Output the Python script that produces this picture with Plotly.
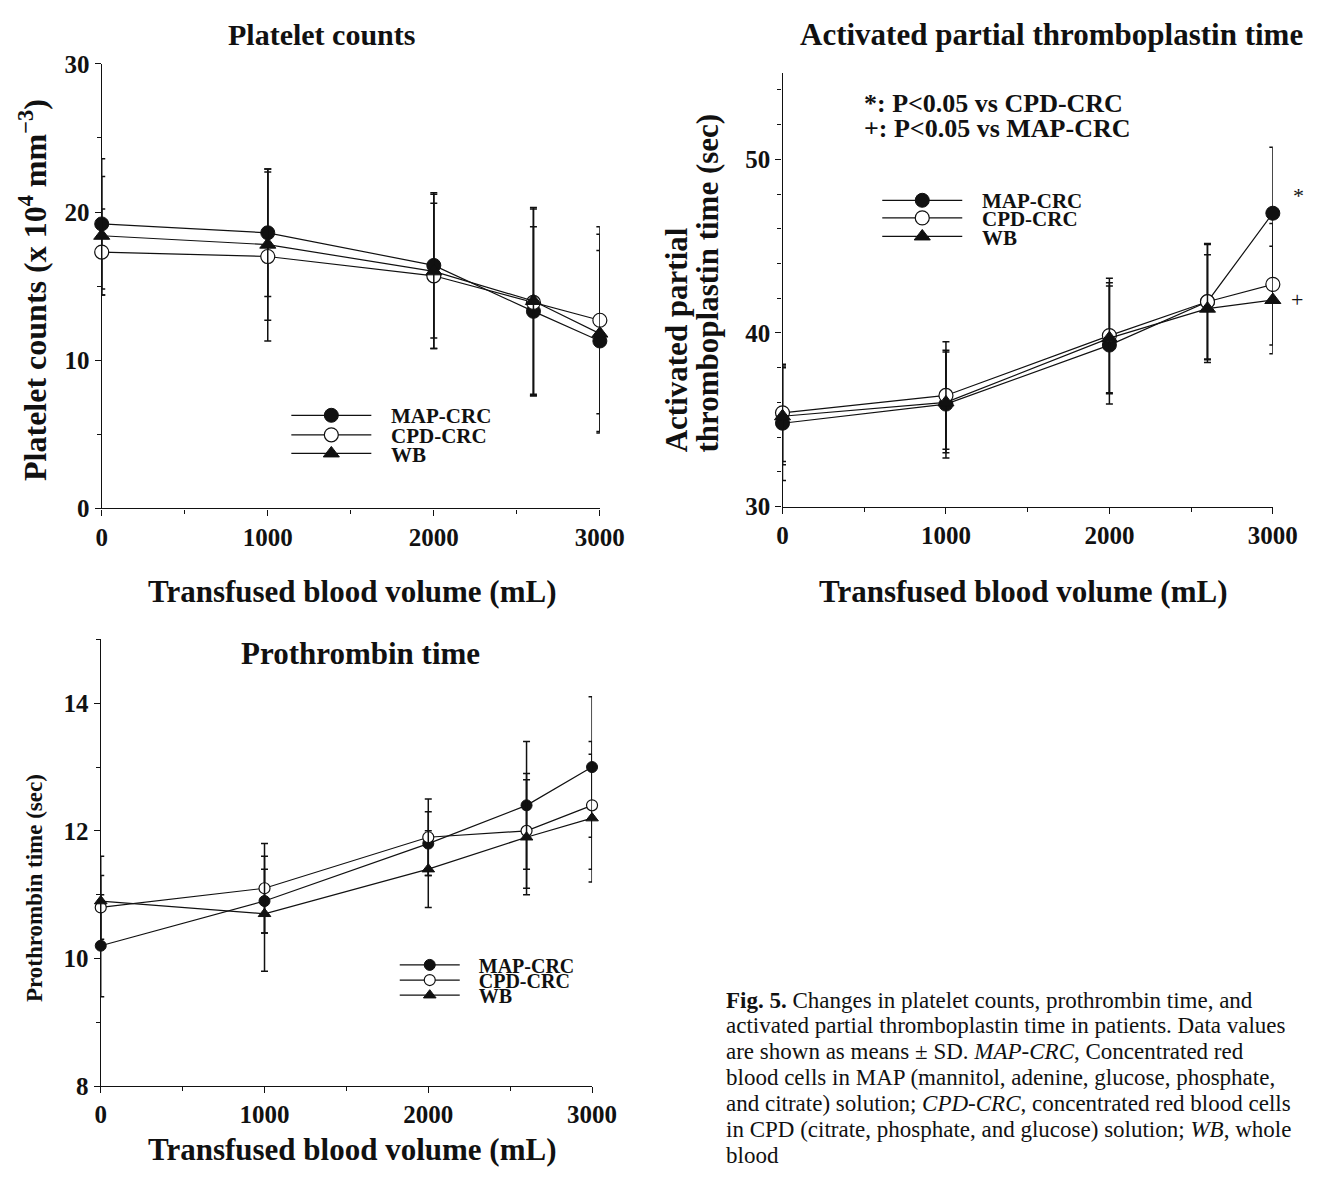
import plotly.graph_objects as go

W, H = 1333, 1189

# ---------------- data ----------------
volume = [0, 1000, 2000, 2600, 3000]
series_names = ["MAP-CRC", "CPD-CRC", "WB"]

plt_map = [19.2, 18.6, 16.4, 13.3, 11.3]
plt_map_sd = [4.4, 4.3, 4.9, 5.7, 6.1]
plt_cpd = [17.3, 17.0, 15.7, 13.9, 12.7]
plt_cpd_sd = [2.9, 5.7, 4.9, 6.3, 6.3]
plt_wb = [18.4, 17.8, 16.0, 14.0, 11.8]
plt_wb_sd = [4.0, 5.1, 5.2, 6.3, 6.7]

aptt_map = [34.8, 35.9, 39.3, 41.8, 46.9]
aptt_map_sd = [3.3, 3.1, 3.4, 3.3, 3.8]
aptt_cpd = [35.4, 36.4, 39.85, 41.8, 42.8]
aptt_cpd_sd = [2.8, 3.1, 3.3, 3.35, 3.5]
aptt_wb = [35.2, 36.0, 39.7, 41.4, 41.9]
aptt_wb_sd = [2.8, 2.9, 3.2, 3.1, 3.1]

pt_map = [10.2, 10.9, 11.8, 12.4, 13.0]
pt_map_sd = [0.8, 0.5, 0.5, 1.0, 1.1]
pt_cpd = [10.8, 11.1, 11.9, 12.0, 12.4]
pt_cpd_sd = [0.5, 0.7, 0.6, 0.9, 1.0]
pt_wb = [10.9, 10.7, 11.4, 11.9, 12.2]
pt_wb_sd = [0.7, 0.9, 0.6, 0.9, 1.0]

x_ticks = [0, 1000, 2000, 3000]
x_minor = [500, 1500, 2500]

# ---------------- styling ----------------
FONT = "Liberation Serif"
BLACK = "#111111"


def px_x(a, b):
    return [a / W, b / W]


def px_y(top, bottom):
    return [1 - bottom / H, 1 - top / H]


fig = go.Figure()

# per panel: axes, data, marker size, legend line start (px), legend row centres (px),
# legend line length, legend font size
panels = [
    ("x", "y", [plt_map, plt_cpd, plt_wb], [plt_map_sd, plt_cpd_sd, plt_wb_sd], 14,
     292, [412, 432, 451], 80, 21),
    ("x2", "y2", [aptt_map, aptt_cpd, aptt_wb], [aptt_map_sd, aptt_cpd_sd, aptt_wb_sd], 14,
     897, [192, 210, 229], 80, 21),
    ("x3", "y3", [pt_map, pt_cpd, pt_wb], [pt_map_sd, pt_cpd_sd, pt_wb_sd], 11,
     403, [974, 989.5, 1005], 60, 20),
]
marker_styles = [
    dict(symbol="circle", color=BLACK, line=dict(color=BLACK, width=1)),
    dict(symbol="circle", color="white", line=dict(color=BLACK, width=1.2)),
    dict(symbol="triangle-up", color=BLACK, line=dict(color=BLACK, width=1)),
]

legend_layouts = {}
k = 0
for xa, ya, ys, sds, msize, lx, rows, llen, lfs in panels:
    for i in range(3):
        k += 1
        lg = "legend" if k == 1 else f"legend{k}"
        fig.add_trace(go.Scatter(
            x=volume, y=ys[i], xaxis=xa, yaxis=ya, legend=lg,
            name="\u2002\u2009" + series_names[i], mode="lines+markers",
            line=dict(color=BLACK, width=1.2),
            marker=dict(size=msize, **marker_styles[i]),
            error_y=dict(type="data", array=sds[i], visible=True,
                         color=BLACK, thickness=1.5, width=3.5),
            cliponaxis=False,
        ))
        legend_layouts[lg] = dict(
            x=(lx - 5) / W, y=1 - rows[i] / H, xanchor="left", yanchor="middle",
            bgcolor="rgba(0,0,0,0)", borderwidth=0, itemwidth=llen,
            font=dict(family=FONT, size=lfs, color=BLACK, weight="bold"))

tickfont = dict(family=FONT, size=25, color=BLACK, weight="bold")
axis_common = dict(showline=True, linecolor=BLACK, linewidth=1.3, ticks="outside",
                   ticklen=6, tickwidth=1.3, tickcolor=BLACK, showgrid=False,
                   zeroline=False, tickfont=tickfont)
minor_x = dict(tickvals=x_minor, ticklen=4, ticks="outside", tickcolor=BLACK, tickwidth=1.2)

fig.update_layout(
    width=W, height=H, margin=dict(l=0, r=0, t=0, b=0),
    paper_bgcolor="white", plot_bgcolor="white",
    font=dict(family=FONT, color=BLACK),
    showlegend=True,
    xaxis=dict(domain=px_x(98, 608), range=[0, 3000], tickvals=x_ticks, anchor="y",
               minor=minor_x, **axis_common),
    yaxis=dict(domain=px_y(52, 507), range=[0, 30], dtick=10, anchor="x",
               minor=dict(dtick=5, ticklen=4, ticks="outside", tickcolor=BLACK, tickwidth=1.2),
               **axis_common),
    xaxis2=dict(domain=px_x(795, 1297), range=[0, 3000], tickvals=x_ticks, anchor="y2",
                minor=minor_x, **axis_common),
    yaxis2=dict(domain=px_y(61, 505), range=[30, 55], dtick=10, anchor="x2",
                minor=dict(dtick=2, tick0=30, ticklen=4, ticks="outside", tickcolor=BLACK, tickwidth=1.2),
                **axis_common),
    xaxis3=dict(domain=px_x(97, 600), range=[0, 3000], tickvals=x_ticks, anchor="y3",
                minor=minor_x, **axis_common),
    yaxis3=dict(domain=px_y(641, 1098), range=[8, 15], dtick=2, anchor="x3",
                minor=dict(dtick=1, ticklen=4, ticks="outside", tickcolor=BLACK, tickwidth=1.2),
                **axis_common),
    **legend_layouts,
)


def bold(s):
    return dict(family=FONT, size=s, color=BLACK, weight="bold")


ann = []
# panel titles
ann.append(dict(text="Platelet counts", x=323, y=22, font=bold(30)))
ann.append(dict(text="Activated partial thromboplastin time", x=1070, y=22, font=bold(31)))
ann.append(dict(text="Prothrombin time", x=363, y=655, font=bold(31)))
# x titles
for cx, cy in [(355, 592), (1042, 592), (355, 1163)]:
    ann.append(dict(text="Transfused blood volume (mL)", x=cx, y=cy, font=bold(31)))
# y titles
ann.append(dict(text="Platelet counts (x 10<sup>4</sup> mm<sup>\u22123</sup>)", x=27, y=283,
                textangle=-90, font=bold(32)))
ann.append(dict(text="Activated partial", x=686, y=452, yanchor="bottom",
                textangle=-90, font=bold(31)))
ann.append(dict(text="thromboplastin time (sec)", x=718, y=452, yanchor="bottom",
                textangle=-90, font=bold(31)))
ann.append(dict(text="Prothrombin time (sec)", x=29, y=895, textangle=-90, font=bold(23)))
# significance legend
ann.append(dict(text="*: P<0.05 vs CPD-CRC", x=876, y=93, xanchor="left", font=bold(26)))
ann.append(dict(text="+: P<0.05 vs MAP-CRC", x=876, y=118, xanchor="left", font=bold(26)))
# caption
caption_lines = [
    "<b>Fig. 5.</b> Changes in platelet counts, prothrombin time, and",
    "activated partial thromboplastin time in patients. Data values",
    "are shown as means \u00b1 SD. <i>MAP-CRC</i>, Concentrated red",
    "blood cells in MAP (mannitol, adenine, glucose, phosphate,",
    "and citrate) solution; <i>CPD-CRC</i>, concentrated red blood cells",
    "in CPD (citrate, phosphate, and glucose) solution; <i>WB</i>, whole",
    "blood",
]
for i, line in enumerate(caption_lines):
    ann.append(dict(text=line, x=735, y=1010 + 26.5 * i, xanchor="left", align="left",
                    font=dict(family=FONT, size=23, color=BLACK)))

for a in ann:
    a["x"] = a["x"] / W
    a["y"] = 1 - a["y"] / H
    a["xref"] = "paper"
    a["yref"] = "paper"
    a.setdefault("xanchor", "center")
    a.setdefault("yanchor", "middle")
    a["showarrow"] = False

# significance marks next to the data points at 3000 mL
ann.append(dict(text="*", xref="x2", yref="y2", x=volume[4], y=aptt_map[4] + 1.0, xshift=18,
                xanchor="left", yanchor="middle", showarrow=False,
                font=dict(family=FONT, size=22, color=BLACK)))
ann.append(dict(text="+", xref="x2", yref="y2", x=volume[4], y=aptt_wb[4], xshift=16,
                xanchor="left", yanchor="middle", showarrow=False,
                font=dict(family=FONT, size=22, color=BLACK)))
fig.update_layout(annotations=ann)

fig.write_html("out.html")
